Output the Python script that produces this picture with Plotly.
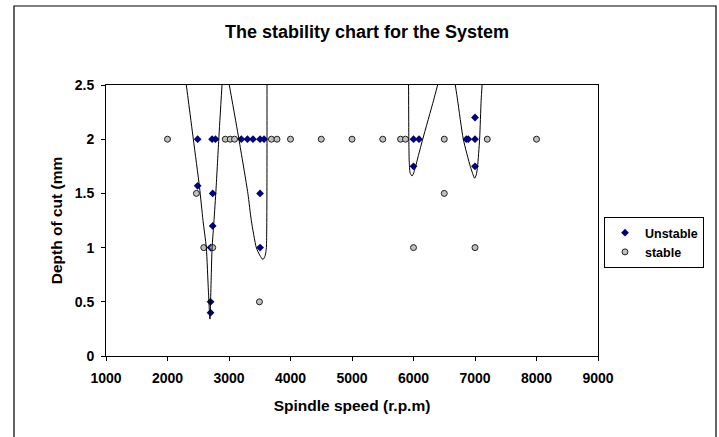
import plotly.graph_objects as go

# Measured points
unstable_speed = [2490, 2725, 2780, 3200, 3300, 3390, 3505, 3570, 2490, 2735, 3505, 2735, 2700, 3505, 2700, 2700,
                  6000, 6090, 6000, 6860, 6890, 7000, 7000, 7000]
unstable_depth = [2.0, 2.0, 2.0, 2.0, 2.0, 2.0, 2.0, 2.0, 1.57, 1.5, 1.5, 1.2, 1.0, 1.0, 0.5, 0.4,
                  2.0, 2.0, 1.75, 2.0, 2.0, 2.0, 2.2, 1.75]

stable_speed = [2000, 2940, 3020, 3090, 3690, 3780, 4000, 4500, 5000, 5500, 5790, 5870, 6500, 7200, 8000,
                2470, 2590, 2735, 3495, 6500, 6000, 7000]
stable_depth = [2.0, 2.0, 2.0, 2.0, 2.0, 2.0, 2.0, 2.0, 2.0, 2.0, 2.0, 2.0, 2.0, 2.0, 2.0,
                1.5, 1.0, 1.0, 0.5, 1.5, 1.0, 1.0]

# Stability lobe boundary
lobe1_speed = [2306, 2420, 2520, 2577, 2631, 2665, 2690, 2700, 2712, 2725, 2750, 2785, 2834, 2886]
lobe1_depth = [2.5, 2.0, 1.56, 1.25, 1.0, 0.6, 0.34, 0.5, 0.75, 1.0, 1.2, 1.5, 2.0, 2.5]

lobe2_speed = [3005, 3161, 3307, 3363, 3444, 3500, 3553, 3590, 3608, 3614, 3617, 3618, 3618]
lobe2_depth = [2.5, 2.0, 1.5, 1.25, 1.0, 0.93, 0.89, 0.93, 1.0, 1.2, 1.6, 2.0, 2.5]

lobe3_speed = [5920, 5924, 5930, 5945, 5976, 6010, 6080, 6150, 6327, 6392]
lobe3_depth = [2.5, 2.0, 1.8, 1.69, 1.66, 1.7, 1.85, 2.0, 2.36, 2.5]

lobe4_speed = [6680, 6717, 6810, 6923, 6970, 6994, 7020, 7042, 7075, 7100, 7115]
lobe4_depth = [2.5, 2.36, 2.0, 1.75, 1.67, 1.64, 1.67, 1.75, 2.0, 2.36, 2.5]

x_ticks = [1000, 2000, 3000, 4000, 5000, 6000, 7000, 8000, 9000]
y_ticks = [0, 0.5, 1, 1.5, 2, 2.5]

FONT = "Liberation Sans, Arial, sans-serif"


def bold(size):
    return dict(size=size, family=FONT, color="black", weight="bold")


fig = go.Figure()

fig.add_trace(go.Scatter(
    x=unstable_speed, y=unstable_depth, mode="markers", name="Unstable",
    marker=dict(symbol="diamond", size=6, color="#000080", line=dict(width=0)),
))
fig.add_trace(go.Scatter(
    x=stable_speed, y=stable_depth, mode="markers", name="stable",
    marker=dict(symbol="circle", size=6, color="#C0C0C0", line=dict(width=1, color="#202020")),
))

lx, ly = [], []
for sx, sy in [(lobe1_speed, lobe1_depth), (lobe2_speed, lobe2_depth),
               (lobe3_speed, lobe3_depth), (lobe4_speed, lobe4_depth)]:
    lx += sx + [None]
    ly += sy + [None]

fig.add_trace(go.Scatter(
    x=lx, y=ly, mode="lines", showlegend=False, hoverinfo="skip",
    line=dict(color="black", width=1, shape="spline", smoothing=0.6),
    connectgaps=False,
))

fig.update_layout(
    width=719, height=437,
    margin=dict(l=106, r=121, t=85, b=81, autoexpand=False),
    paper_bgcolor="white", plot_bgcolor="white",
    font=dict(family=FONT, color="black"),
    title=dict(text="The stability chart for the System",
               x=0.5104, xref="container", xanchor="center",
               y=1 - 32 / 437, yref="container", yanchor="middle",
               font=bold(18)),
    xaxis=dict(
        range=[1000, 9000], tickvals=x_ticks,
        showgrid=False, zeroline=False, showline=True, linecolor="black", linewidth=1,
        mirror=True, ticks="outside", ticklen=4, tickcolor="black",
        tickfont=bold(14), ticklabelstandoff=5,
        title=dict(text="Spindle speed (r.p.m)", font=bold(15.5), standoff=15),
    ),
    yaxis=dict(
        range=[0, 2.5], tickvals=y_ticks,
        showgrid=False, zeroline=False, showline=True, linecolor="black", linewidth=1,
        mirror=True, ticks="outside", ticklen=4, tickcolor="black",
        tickfont=bold(14), ticklabelstandoff=4,
        title=dict(text="Depth of cut (mm", font=bold(15.5), standoff=8),
    ),
    legend=dict(
        x=(604 - 106) / 492, xanchor="left", y=(356 - 217) / 271, yanchor="top",
        bordercolor="black", borderwidth=1, bgcolor="white",
        font=bold(12.5),
        itemwidth=30, tracegroupgap=0,
    ),
    shapes=[dict(type="rect", xref="paper", yref="paper",
                 x0=(14 - 106) / 492, x1=(716 - 106) / 492,
                 y0=(356 - 460) / 271, y1=(356 - 6) / 271,
                 line=dict(color="black", width=1.2), fillcolor="rgba(0,0,0,0)", layer="below")],
)

fig.write_html("out.html")
